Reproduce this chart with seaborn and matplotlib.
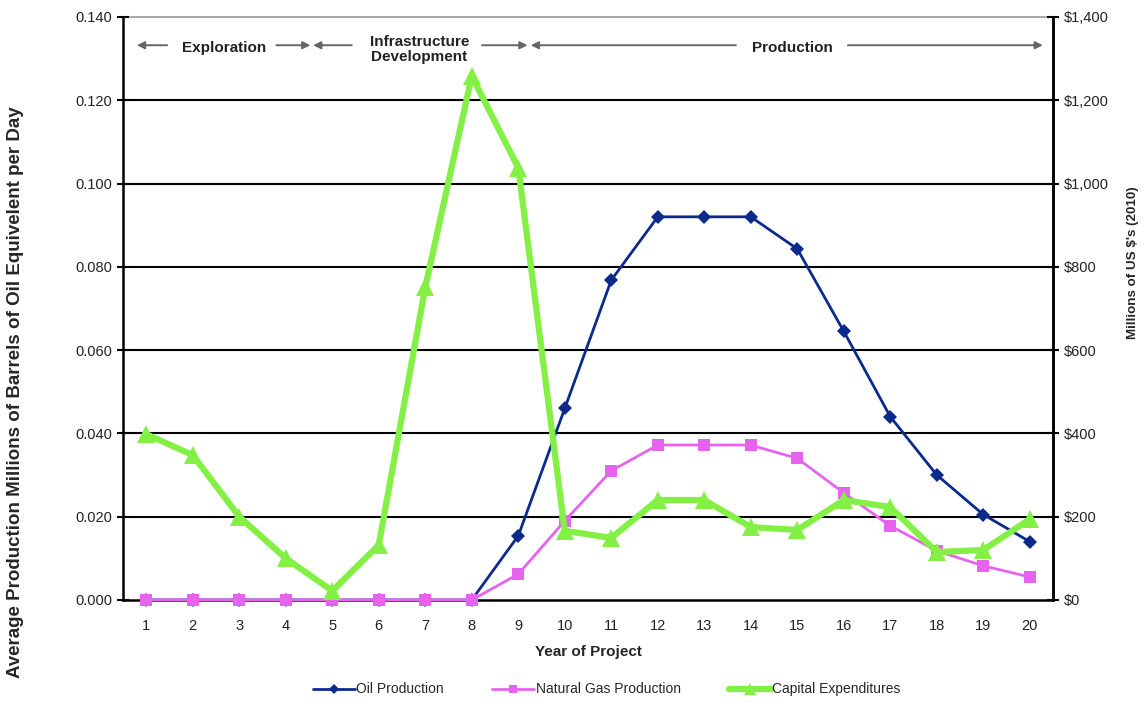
# -*- coding: utf-8 -*-
import pandas as pd
import matplotlib.pyplot as plt
import matplotlib.ticker as mticker
import seaborn as sns

# Datos
years = list(range(1, 21))
oil = [0, 0, 0, 0, 0, 0, 0, 0, 0.0154, 0.046, 0.0768, 0.092, 0.092, 0.092,
       0.0843, 0.0645, 0.044, 0.030, 0.0205, 0.014]
gas = [0, 0, 0, 0, 0, 0, 0, 0, 0.0062, 0.019, 0.031, 0.0372, 0.0372, 0.0372,
       0.034, 0.0257, 0.0178, 0.0118, 0.0082, 0.0055]
capex = [398, 348, 200, 100, 22, 132, 751, 1258, 1038, 166, 149, 240, 240, 175,
         168, 240, 223, 115, 120, 194]
left_ticks = [0.0, 0.02, 0.04, 0.06, 0.08, 0.10, 0.12, 0.14]
right_ticks = [0, 200, 400, 600, 800, 1000, 1200, 1400]

df = pd.DataFrame({"Year": years, "Oil": oil, "Gas": gas, "Capex": capex})

sns.set_style("white")
plt.rcParams["font.family"] = ["Liberation Sans", "DejaVu Sans"]

fig = plt.figure(figsize=(11.45, 7.05), dpi=100)
ax = fig.add_axes([0.1074, 0.149, 0.8123, 0.827])
ax2 = ax.twinx()

sns.lineplot(data=df, x="Year", y="Oil", ax=ax, color="#0b2a8c", linewidth=2,
             marker="D", markersize=7, markeredgewidth=0, label="Oil Production",
             zorder=3, clip_on=False)
sns.lineplot(data=df, x="Year", y="Gas", ax=ax, color="#e663ef", linewidth=2,
             marker="s", markersize=9, markeredgewidth=0, label="Natural Gas Production",
             zorder=4, clip_on=False)
sns.lineplot(data=df, x="Year", y="Capex", ax=ax2, color="#84f046", linewidth=4.5,
             marker="^", markersize=13, markeredgewidth=0, label="Capital Expenditures",
             zorder=3, clip_on=False)

ax.set_xlim(0.5, 20.5)
ax.set_ylim(0, 0.14)
ax2.set_ylim(0, 1400)
ax.set_yticks(left_ticks)
ax2.set_yticks(right_ticks)
ax.yaxis.set_major_formatter(mticker.FormatStrFormatter("%.3f"))
ax2.yaxis.set_major_formatter(mticker.FuncFormatter(lambda v, p: "${:,.0f}".format(v)))
ax.set_xticks(years)
ax.set_xticks([y + 0.5 for y in range(0, 21)], minor=True)
ax.tick_params(axis="x", which="major", length=0, pad=14, labelsize=10.5, colors="#222222")
ax.tick_params(axis="x", which="minor", length=5, width=1.5, direction="inout", color="black")
ax.tick_params(axis="y", which="major", length=8, width=1.5, direction="inout",
               labelsize=10.5, colors="#222222", color="black")
ax2.tick_params(axis="y", which="major", length=8, width=1.5, direction="inout",
                labelsize=10.5, colors="#222222", color="black")
for s in ("left", "right", "bottom"):
    ax.spines[s].set_color("black")
    ax.spines[s].set_linewidth(1.8)
ax.spines["top"].set_color("#999999")
ax.spines["top"].set_linewidth(1.2)
ax.set_axisbelow(False)
for s in ("left", "bottom", "top"):
    ax2.spines[s].set_visible(False)
ax2.spines["right"].set_color("black")
ax2.spines["right"].set_linewidth(1.8)

for t in left_ticks[1:-1]:
    ax.axhline(t, color="black", linewidth=1.5, zorder=1)

ax.set_xlabel("Year of Project", fontsize=11, fontweight="bold", labelpad=8)
ax.set_ylabel("Average Production Millions of Barrels of Oil Equivelent per Day",
              fontsize=13.5, fontweight="bold")
ax.yaxis.set_label_coords(-0.1065, 0.357)
ax2.set_ylabel("Millions of US $'s (2010)", fontsize=9.6, fontweight="bold")
ax2.yaxis.set_label_coords(1.079, 0.578)

# Fases del proyecto
ya = 0.1332
arrow_kw = dict(arrowstyle="-|>", color="#666666", lw=1.4, mutation_scale=11,
                shrinkA=0, shrinkB=0)
segments = [(1.45, 0.80), (3.80, 4.53), (5.42, 4.59), (8.22, 9.20),
            (13.68, 9.27), (16.09, 20.28)]
for x0, x1 in segments:
    ax.annotate("", xy=(x1, ya), xytext=(x0, ya), arrowprops=arrow_kw)
ax.text(2.67, 0.1325, "Exploration", ha="center", va="center", fontsize=11,
        fontweight="bold", color="#222222")
ax.text(6.87, 0.1322, "Infrastructure\nDevelopment", ha="center", va="center",
        fontsize=11, fontweight="bold", color="#222222", linespacing=1.15)
ax.text(14.89, 0.1325, "Production", ha="center", va="center", fontsize=11,
        fontweight="bold", color="#222222")

h1, l1 = ax.get_legend_handles_labels()
h2, l2 = ax2.get_legend_handles_labels()
if ax.get_legend():
    ax.get_legend().remove()
if ax2.get_legend():
    ax2.get_legend().remove()
fig.legend(h1 + h2, l1 + l2, loc="center", bbox_to_anchor=(0.53, 0.022), ncol=3,
           frameon=False, fontsize=10, columnspacing=3.5, handlelength=3,
           handletextpad=0.1, markerscale=0.7)

fig.savefig("out.png", dpi=100)
